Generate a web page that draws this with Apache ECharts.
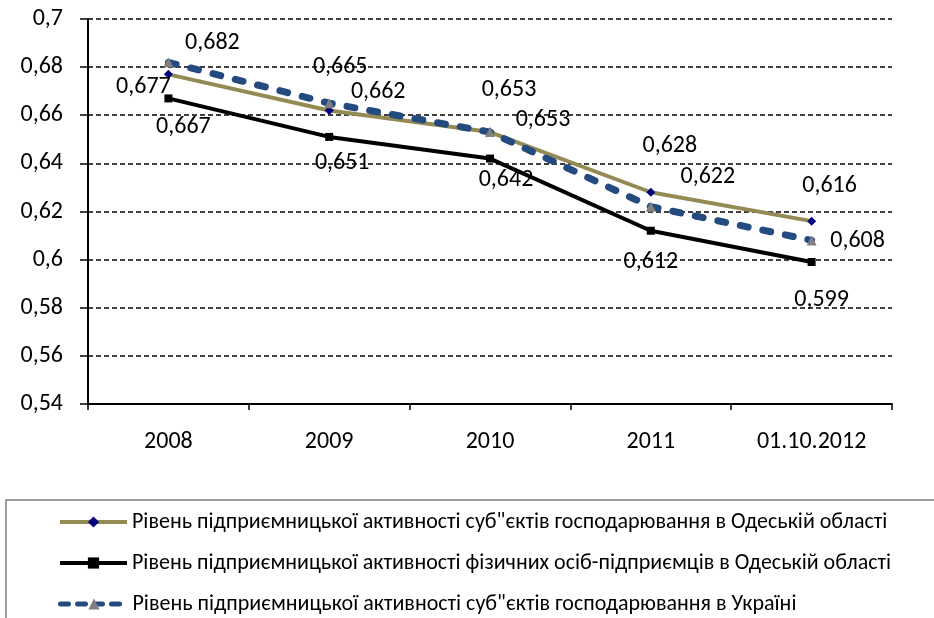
<!DOCTYPE html>
<html>
<head>
<meta charset="utf-8">
<script src="https://cdn.jsdelivr.net/npm/echarts@6/dist/echarts.min.js"></script>
<style>
  html, body { margin: 0; padding: 0; background: #fff; }
  #chart { width: 934px; height: 618px; }
</style>
</head>
<body>
<div id="chart"></div>
<script>
// ---- data ----
const categories = ['2008', '2009', '2010', '2011', '01.10.2012'];
const seriesNames = [
  'Рівень підприємницької активності суб"єктів господарювання в Одеській області',
  'Рівень підприємницької активності фізичних осіб-підприємців в Одеській області',
  'Рівень підприємницької активності суб"єктів господарювання в Україні'
];
const odesaSubjects = [0.677, 0.662, 0.653, 0.628, 0.616];
const odesaPersons  = [0.667, 0.651, 0.642, 0.612, 0.599];
const ukraineSubjects = [0.682, 0.665, 0.653, 0.622, 0.608];
const yTicks = { min: 0.54, max: 0.7, step: 0.02 };

// ---- layout (label offsets from each point, px) ----
const labelOffsets = [
  [[-25, 13], [49, -18], [19, -42], [19, -46], [18, -35]],
  [[15, 29], [13, 26], [16, 21], [0, 31], [10, 38]],
  [[44, -19], [11, -36], [53, -12], [57, -30], [46, 1]]
];
const legendTops = [510, 551, 592];
const legendLine = [
  { width: 4 },
  { width: 4 },
  { width: 5, type: [8, 9], cap: 'round' }
];

const FONT = 'Carlito, Calibri, "Open Sans", "Noto Sans", sans-serif';
const fmt3 = v => v.toFixed(3).replace('.', ',');

function buildData(vals, si) {
  return vals.map((v, i) => ({
    value: v,
    label: { offset: labelOffsets[si][i] }
  }));
}

const labelBase = {
  show: true,
  position: 'inside',
  color: '#000',
  fontFamily: FONT,
  fontSize: 24,
  formatter: p => fmt3(p.value)
};

const legends = seriesNames.map((name, i) => ({
  orient: 'vertical',
  left: 58,
  top: legendTops[i],
  itemWidth: 67,
  itemHeight: 14,
  itemGap: 0,
  padding: 0,
  textStyle: { color: '#000', fontFamily: FONT, fontSize: 22, lineHeight: 24, padding: [0, 0, 0, 0] },
  lineStyle: legendLine[i],
  data: [name]
}));

const chart = echarts.init(document.getElementById('chart'), null, { renderer: 'canvas' });
chart.setOption({
  animation: false,
  backgroundColor: '#fff',
  grid: { left: 88, right: 42, top: 19, bottom: 214, containLabel: false },
  xAxis: {
    type: 'category',
    data: categories,
    boundaryGap: true,
    axisLine: { lineStyle: { color: '#000', width: 2 } },
    axisTick: { show: true, length: 6, lineStyle: { color: '#000', width: 1.5 } },
    axisLabel: { color: '#000', fontFamily: FONT, fontSize: 24, margin: 26 },
    splitLine: { show: false }
  },
  yAxis: {
    type: 'value',
    min: yTicks.min,
    max: yTicks.max,
    interval: yTicks.step,
    axisLine: { show: true, lineStyle: { color: '#000', width: 2 } },
    axisTick: { show: true, length: 8, lineStyle: { color: '#000', width: 1.5 } },
    axisLabel: {
      color: '#000', fontFamily: FONT, fontSize: 24, margin: 25,
      formatter: v => String(parseFloat(v.toFixed(2))).replace('.', ',')
    },
    splitLine: { show: true, lineStyle: { color: '#000', width: 1.5, type: [5, 3] } }
  },
  legend: legends,
  graphic: [{
    type: 'rect',
    shape: { x: 6, y: 500, width: 1000, height: 200 },
    style: { fill: 'none', stroke: '#7f7f7f', lineWidth: 1.5 },
    z: -1, silent: true
  }],
  series: [
    {
      name: seriesNames[0],
      type: 'line',
      data: buildData(odesaSubjects, 0),
      symbol: 'diamond',
      symbolSize: 9,
      lineStyle: { color: '#948A54', width: 4 },
      itemStyle: { color: '#00007F' },
      label: labelBase,
      z: 2
    },
    {
      name: seriesNames[1],
      type: 'line',
      data: buildData(odesaPersons, 1),
      symbol: 'rect',
      symbolSize: 8,
      lineStyle: { color: '#000', width: 4 },
      itemStyle: { color: '#000' },
      label: labelBase,
      z: 3
    },
    {
      name: seriesNames[2],
      type: 'line',
      data: buildData(ukraineSubjects, 2),
      symbol: 'triangle',
      symbolSize: 10,
      lineStyle: { color: '#244B80', width: 7, type: [8, 15], cap: 'round' },
      itemStyle: { color: '#808080' },
      label: labelBase,
      z: 4
    }
  ]
});
</script>
</body>
</html>
